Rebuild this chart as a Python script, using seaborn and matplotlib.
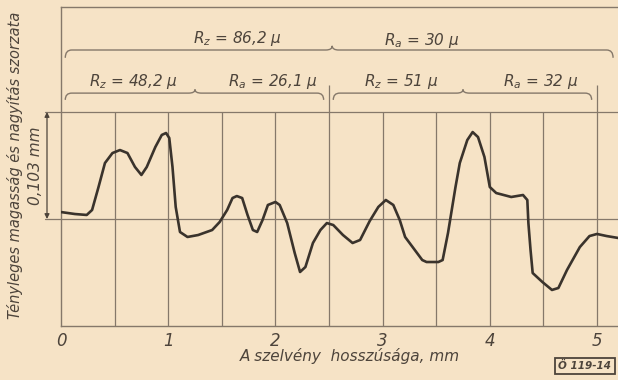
import numpy as np
import pandas as pd
import matplotlib
matplotlib.use("Agg")
import matplotlib.pyplot as plt
from matplotlib.path import Path
from matplotlib.patches import PathPatch
import seaborn as sns

# Surface profile trace: position along the section (mm) and magnified height (mm)
x_mm = [0.00, 0.13, 0.24, 0.29, 0.35, 0.41, 0.48, 0.55, 0.62, 0.69,
        0.75, 0.80, 0.88, 0.94, 0.98, 1.01, 1.04, 1.07, 1.11, 1.18,
        1.28, 1.41, 1.48, 1.55, 1.60, 1.64, 1.69, 1.74, 1.79, 1.83,
        1.88, 1.93, 2.00, 2.04, 2.11, 2.18, 2.23, 2.28, 2.35, 2.42,
        2.48, 2.54, 2.63, 2.72, 2.79, 2.88, 2.96, 3.03, 3.10, 3.16,
        3.21, 3.28, 3.37, 3.41, 3.52, 3.56, 3.61, 3.68, 3.72, 3.79,
        3.84, 3.89, 3.95, 4.00, 4.06, 4.20, 4.31, 4.35, 4.36, 4.38,
        4.40, 4.49, 4.58, 4.64, 4.72, 4.84, 4.93, 5.00, 5.09, 5.20]
height_mm = [0.0067, 0.0048, 0.0039, 0.0087, 0.0308, 0.0539, 0.0635, 0.0664, 0.0635, 0.0501,
             0.0424, 0.0501, 0.0693, 0.0809, 0.0828, 0.0780, 0.0501, 0.0116, -0.0125, -0.0173,
             -0.0154, -0.0106, -0.0029, 0.0087, 0.0202, 0.0221, 0.0202, 0.0039, -0.0106, -0.0125,
             -0.0010, 0.0135, 0.0164, 0.0135, -0.0039, -0.0327, -0.0510, -0.0462, -0.0231, -0.0106,
             -0.0039, -0.0058, -0.0154, -0.0231, -0.0202, -0.0019, 0.0116, 0.0183, 0.0135, -0.0010,
             -0.0173, -0.0270, -0.0395, -0.0414, -0.0414, -0.0395, -0.0135, 0.0308, 0.0539, 0.0760,
             0.0837, 0.0789, 0.0597, 0.0308, 0.0250, 0.0212, 0.0231, 0.0183, -0.0039, -0.0298,
             -0.0520, -0.0606, -0.0683, -0.0664, -0.0491, -0.0270, -0.0164, -0.0144, -0.0164, -0.0183]

# Reference height marked on the left edge
ref_height = 0.103

# Roughness values of the two half sections and of the whole section (micron)
section_bounds = [0.0, 2.5, 5.0]
section_rz = [48.2, 51]
section_ra = [26.1, 32]
total_rz = 86.2
total_ra = 30

x_ticks = [0, 1, 2, 3, 4, 5]
x_ticklabels = ["0", "1", "2", "3", "4", "5"]

PAPER = "#f6e3c6"
INK = "#4d443b"
GRID = "#85786a"
TRACE = "#3a332c"

sns.set_theme(style="white", rc={
    "figure.facecolor": PAPER,
    "axes.facecolor": PAPER,
    "savefig.facecolor": PAPER,
    "text.color": INK,
    "xtick.color": INK,
})
plt.rcParams["font.family"] = ["DejaVu Sans"]
plt.rcParams["mathtext.fontset"] = "dejavusans"

W, H = 618, 380
fig = plt.figure(figsize=(W / 100, H / 100), dpi=100)
ax_left, ax_bottom, ax_w, ax_h = 61, 54, 557, 319
ax = fig.add_axes([ax_left / W, ax_bottom / H, ax_w / W, ax_h / H])
px_per_mm = 107.2
ax.set_xlim(0, ax_w / px_per_mm)
ax.set_ylim(-ref_height, 0.2041)


def fmt(v):
    return f"{v:g}".replace(".", ",")


# frame
for side in ("left", "top", "bottom"):
    ax.spines[side].set_visible(True)
    ax.spines[side].set_color(GRID)
    ax.spines[side].set_linewidth(1.0)
ax.spines["right"].set_visible(False)

# vertical grid every 0.5 mm; section boundaries reach up to the braces
sec_top = 0.129
for v in np.arange(0.5, 5.01, 0.5):
    top = sec_top if np.isclose(v % 2.5, 0) else ref_height
    ax.vlines(v, -ref_height, top, color=GRID, lw=0.9, zorder=1)

# mean line and reference height line, extended past the left frame
ext = -16 / ax_w
ax.axhline(0, xmin=ext, xmax=1, color=GRID, lw=0.9, clip_on=False, zorder=1)
ax.axhline(ref_height, xmin=ext, xmax=1, color=GRID, lw=0.9, clip_on=False, zorder=1)

# double arrow for the reference height
arr_x = -14 / ax_w
ax.annotate("", xy=(arr_x, ref_height), xytext=(arr_x, 0),
            xycoords=("axes fraction", "data"), textcoords=("axes fraction", "data"),
            arrowprops=dict(arrowstyle="<|-|>", color=INK, lw=0.9,
                            mutation_scale=7, shrinkA=0, shrinkB=0))
ax.text(-25 / ax_w, ref_height / 2, fmt(ref_height) + " mm", transform=ax.get_yaxis_transform(),
        rotation=90, ha="center", va="center", fontsize=11, style="italic", color=INK)

# profile trace
df = pd.DataFrame({"x": x_mm, "h": height_mm})
sns.lineplot(data=df, x="x", y="h", ax=ax, color=TRACE, lw=1.9,
             sort=False, estimator=None, zorder=3,
             solid_joinstyle="round", solid_capstyle="round")


def brace(x0, x1, xc, y, depth, cusp, r=0.06):
    verts = [(x0, y - depth), (x0, y), (x0 + r, y),
             (xc - r, y), (xc, y), (xc, y + cusp),
             (xc, y), (xc + r, y),
             (x1 - r, y), (x1, y), (x1, y - depth)]
    codes = [Path.MOVETO, Path.CURVE3, Path.CURVE3,
             Path.LINETO, Path.CURVE3, Path.CURVE3,
             Path.CURVE3, Path.CURVE3,
             Path.LINETO, Path.CURVE3, Path.CURVE3]
    ax.add_patch(PathPatch(Path(verts, codes), fill=False, ec=GRID, lw=1.0, zorder=2))


def label(x, y, sym, val):
    ax.text(x, y, rf"$R_{sym}$ = {fmt(val)} μ", ha="center", va="center",
            fontsize=11, style="italic", color=INK)


# braces over the whole section
big_y = 0.1627
brace(0.04, 5.15, 2.53, big_y, 0.0075, 0.004)
label(1.65, 0.1742, "z", total_rz)
label(3.36, 0.1723, "a", total_ra)

# braces over each half section
small_y = 0.1212
for i in range(2):
    a, b = section_bounds[i], section_bounds[i + 1]
    brace(a + 0.04, b - 0.05, (a + b) / 2, small_y, 0.0065, 0.0035)
    label(a + 0.27 * (b - a), 0.1325, "z", section_rz[i])
    label(a + 0.79 * (b - a), 0.1325, "a", section_ra[i])

# axis ticks and labels
ax.set_xticks(x_ticks)
ax.set_xticklabels(x_ticklabels, fontsize=12, style="italic", color=INK)
ax.tick_params(axis="x", length=0, pad=4)
ax.set_yticks([])
ax.set_xlabel("")
ax.set_ylabel("")

fig.text(350 / W, 1 - 356 / H, "A szelvény  hosszúsága, mm", ha="center", va="center",
         fontsize=11, style="italic", color=INK)
fig.text(15 / W, 1 - 165 / H, "Tényleges magasság és nagyítás szorzata", rotation=90,
         ha="center", va="center", fontsize=10.5, style="italic", color=INK)
fig.text(585 / W, 1 - 366 / H, "Ö 119-14", ha="center", va="center", fontsize=7.5,
         style="italic", weight="bold", color=INK,
         bbox=dict(boxstyle="square,pad=0.3", fc="none", ec=INK, lw=1.3))

fig.savefig("out.png", dpi=100)
